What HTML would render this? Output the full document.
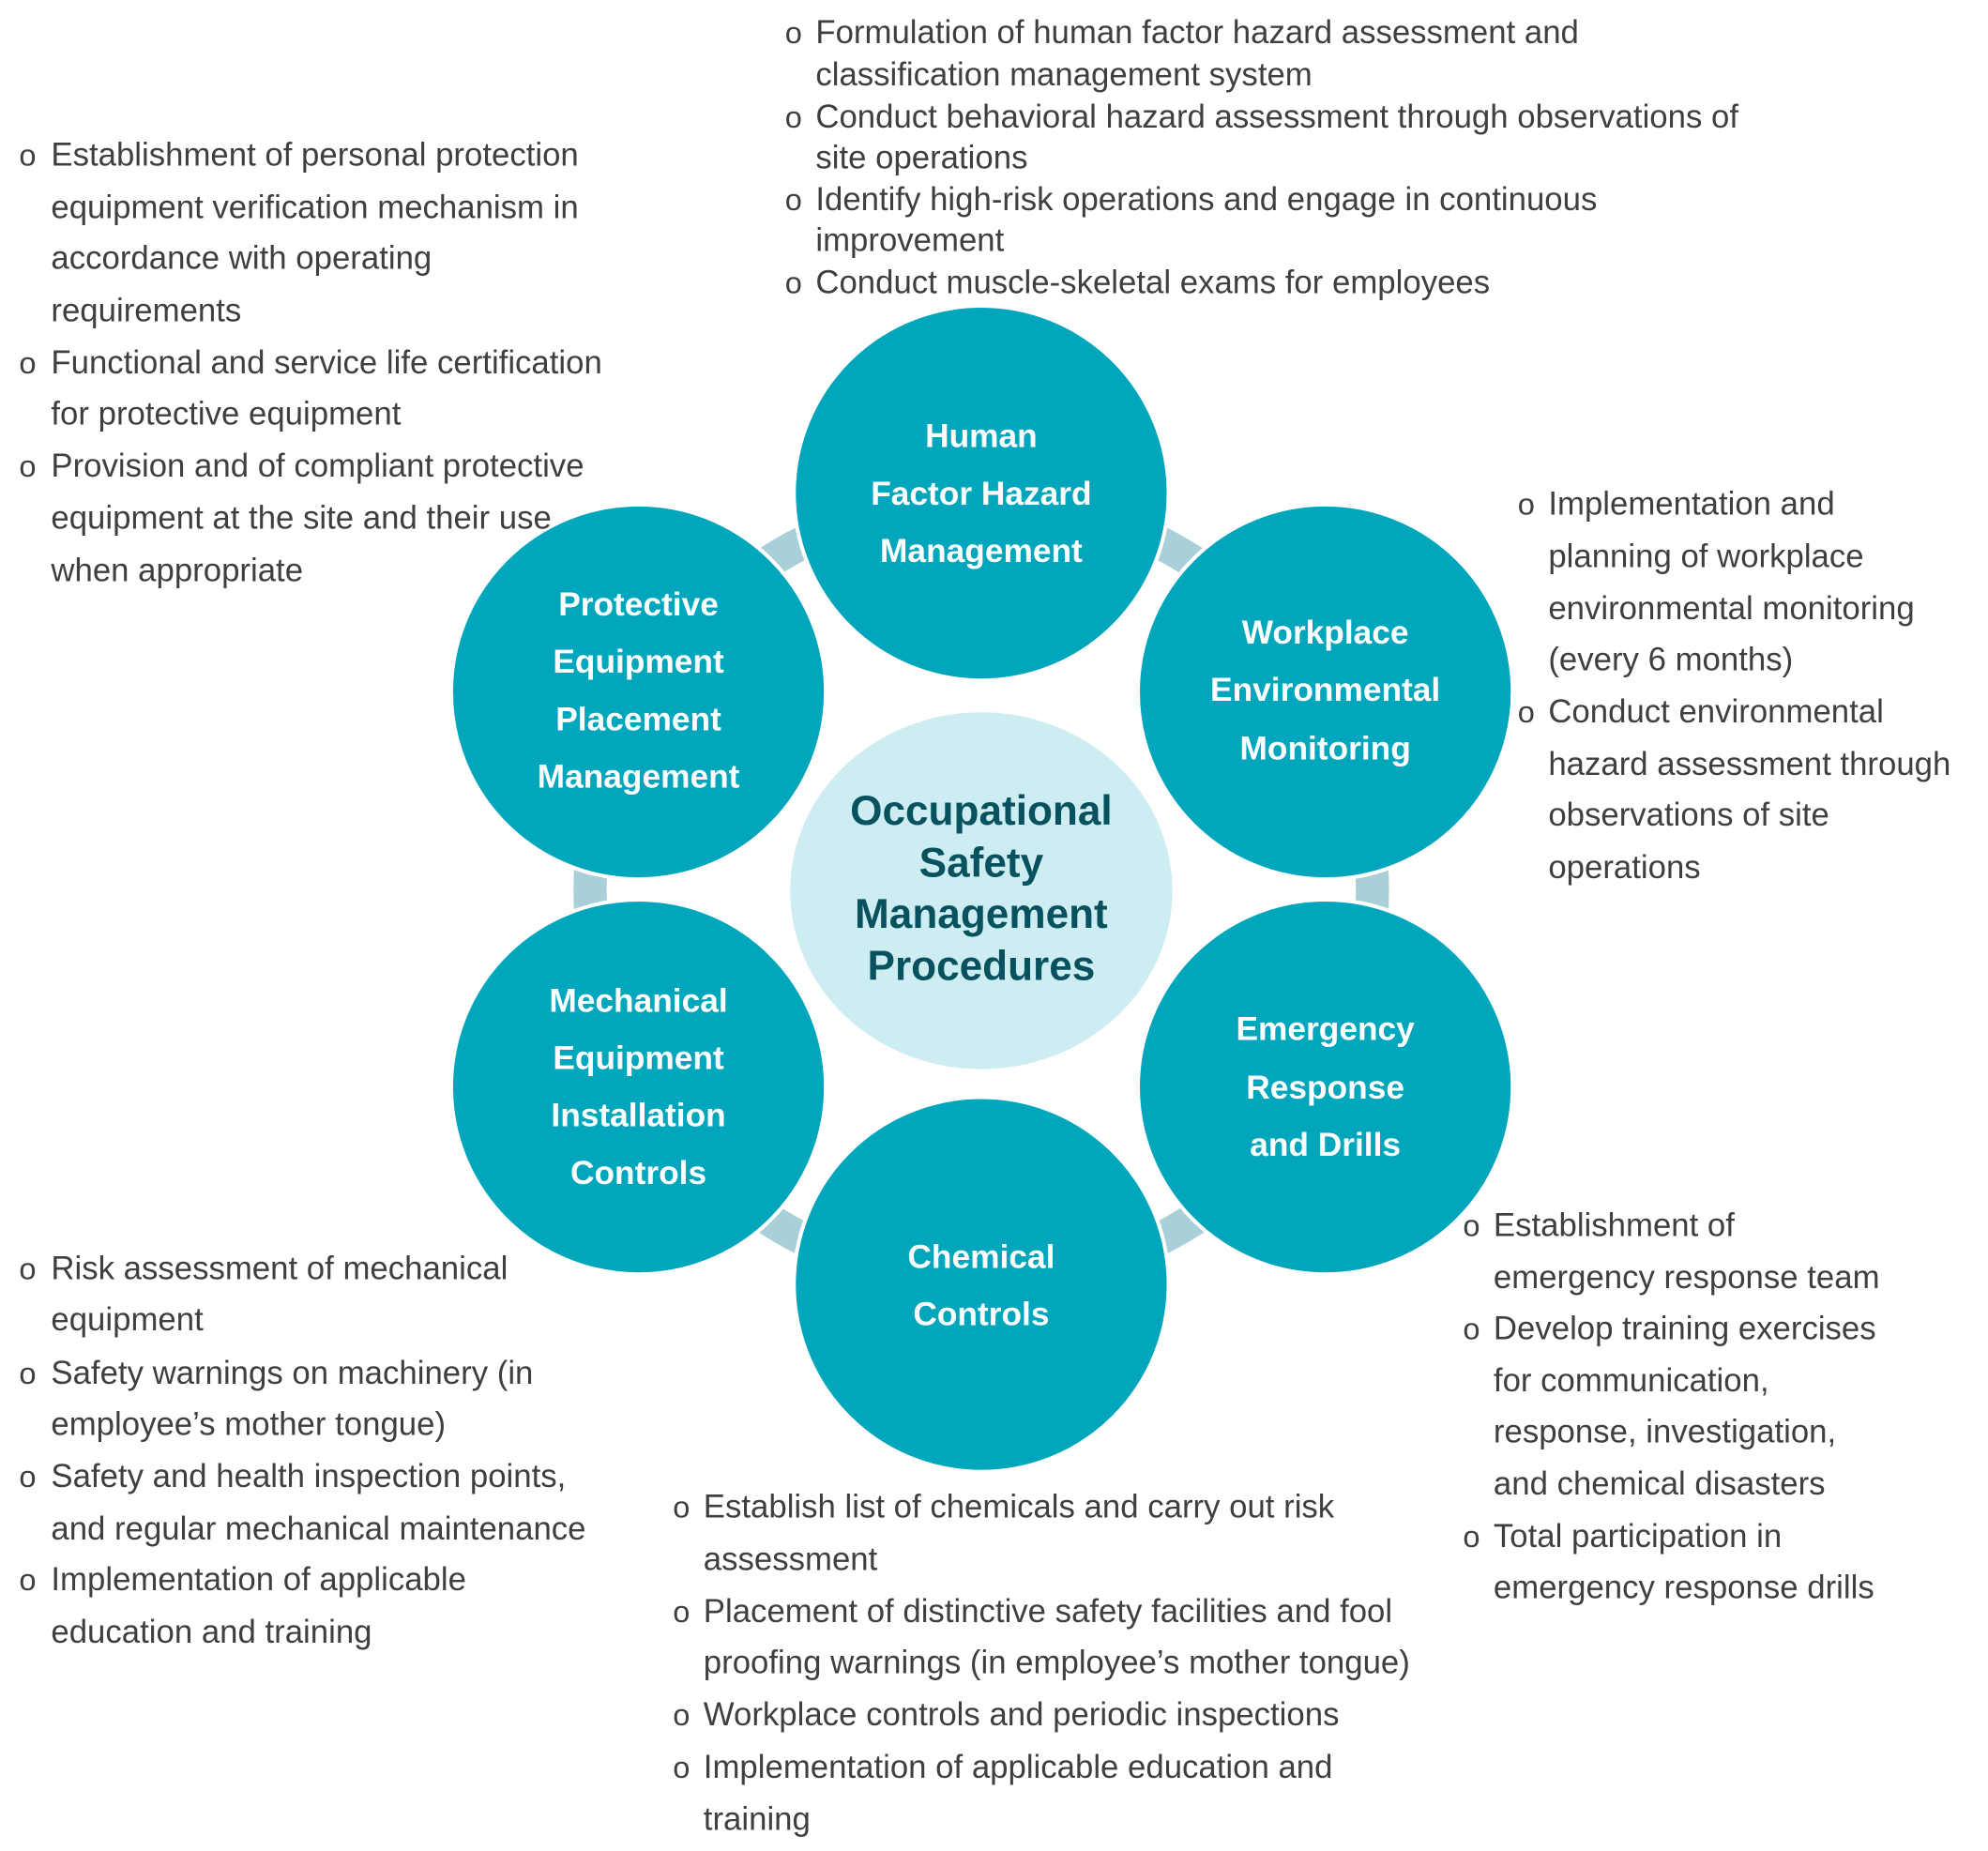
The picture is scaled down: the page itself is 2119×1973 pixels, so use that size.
<!DOCTYPE html>
<html><head><meta charset="utf-8"><style>
html,body{margin:0;padding:0;background:#fff;}
svg{display:block;}
.t{font-family:"Liberation Sans",sans-serif;font-size:25.6px;fill:#3f3f3f;}
.b{font-family:"Liberation Sans",sans-serif;font-size:24px;fill:#3f3f3f;}
.c{font-family:"Liberation Sans",sans-serif;font-size:26px;font-weight:bold;fill:#fff;text-anchor:middle;}
.m{font-family:"Liberation Sans",sans-serif;font-size:32.5px;font-weight:bold;fill:#07525e;text-anchor:middle;}
</style></head><body>
<svg width="2119" height="1973" viewBox="0 0 1560 1452.6" xmlns="http://www.w3.org/2000/svg">
<circle cx="770" cy="699" r="307" fill="none" stroke="#a9cfd8" stroke-width="26"/>
<g fill="#00a6bc" stroke="#fff" stroke-width="3">
<circle cx="770" cy="387" r="147"/>
<circle cx="1040" cy="543" r="147"/>
<circle cx="1040" cy="853" r="147"/>
<circle cx="770" cy="1008" r="147"/>
<circle cx="501" cy="853" r="147"/>
<circle cx="501" cy="543" r="147"/>
</g>
<ellipse cx="770" cy="699" rx="150" ry="140" fill="#cdedf2"/>
<text class="c" x="770" y="351">Human</text>
<text class="c" x="770" y="396">Factor Hazard</text>
<text class="c" x="770" y="441">Management</text>
<text class="c" x="1040" y="505">Workplace</text>
<text class="c" x="1040" y="550">Environmental</text>
<text class="c" x="1040" y="596">Monitoring</text>
<text class="c" x="1040" y="816">Emergency</text>
<text class="c" x="1040" y="862">Response</text>
<text class="c" x="1040" y="907">and Drills</text>
<text class="c" x="770" y="995">Chemical</text>
<text class="c" x="770" y="1040">Controls</text>
<text class="c" x="501" y="794">Mechanical</text>
<text class="c" x="501" y="839">Equipment</text>
<text class="c" x="501" y="884">Installation</text>
<text class="c" x="501" y="929">Controls</text>
<text class="c" x="501" y="483">Protective</text>
<text class="c" x="501" y="528">Equipment</text>
<text class="c" x="501" y="573">Placement</text>
<text class="c" x="501" y="618">Management</text>
<text class="m" x="770" y="647">Occupational</text>
<text class="m" x="770" y="688">Safety</text>
<text class="m" x="770" y="728">Management</text>
<text class="m" x="770" y="769">Procedures</text>

<g>
<text class="b" x="616" y="34">o</text><text class="t" x="640" y="34">Formulation of human factor hazard assessment and</text>
<text class="t" x="640" y="67">classification management system</text>
<text class="b" x="616" y="100">o</text><text class="t" x="640" y="100">Conduct behavioral hazard assessment through observations of</text>
<text class="t" x="640" y="132">site operations</text>
<text class="b" x="616" y="165">o</text><text class="t" x="640" y="165">Identify high-risk operations and engage in continuous</text>
<text class="t" x="640" y="197">improvement</text>
<text class="b" x="616" y="230">o</text><text class="t" x="640" y="230">Conduct muscle-skeletal exams for employees</text>
</g>
<g>
<text class="b" x="15" y="130">o</text><text class="t" x="40" y="130">Establishment of personal protection</text>
<text class="t" x="40" y="171">equipment verification mechanism in</text>
<text class="t" x="40" y="211">accordance with operating</text>
<text class="t" x="40" y="252">requirements</text>
<text class="b" x="15" y="293">o</text><text class="t" x="40" y="293">Functional and service life certification</text>
<text class="t" x="40" y="333">for protective equipment</text>
<text class="b" x="15" y="374">o</text><text class="t" x="40" y="374">Provision and of compliant protective</text>
<text class="t" x="40" y="415">equipment at the site and their use</text>
<text class="t" x="40" y="456">when appropriate</text>
</g>
<g>
<text class="b" x="1191" y="404">o</text><text class="t" x="1215" y="404">Implementation and</text>
<text class="t" x="1215" y="445">planning of workplace</text>
<text class="t" x="1215" y="486">environmental monitoring</text>
<text class="t" x="1215" y="526">(every 6 months)</text>
<text class="b" x="1191" y="567">o</text><text class="t" x="1215" y="567">Conduct environmental</text>
<text class="t" x="1215" y="608">hazard assessment through</text>
<text class="t" x="1215" y="648">observations of site</text>
<text class="t" x="1215" y="689">operations</text>
</g>
<g>
<text class="b" x="1148" y="970">o</text><text class="t" x="1172" y="970">Establishment of</text>
<text class="t" x="1172" y="1011">emergency response team</text>
<text class="b" x="1148" y="1051">o</text><text class="t" x="1172" y="1051">Develop training exercises</text>
<text class="t" x="1172" y="1092">for communication,</text>
<text class="t" x="1172" y="1132">response, investigation,</text>
<text class="t" x="1172" y="1173">and chemical disasters</text>
<text class="b" x="1148" y="1214">o</text><text class="t" x="1172" y="1214">Total participation in</text>
<text class="t" x="1172" y="1254">emergency response drills</text>
</g>
<g>
<text class="b" x="15" y="1004">o</text><text class="t" x="40" y="1004">Risk assessment of mechanical</text>
<text class="t" x="40" y="1044">equipment</text>
<text class="b" x="15" y="1086">o</text><text class="t" x="40" y="1086">Safety warnings on machinery (in</text>
<text class="t" x="40" y="1126">employee’s mother tongue)</text>
<text class="b" x="15" y="1167">o</text><text class="t" x="40" y="1167">Safety and health inspection points,</text>
<text class="t" x="40" y="1208">and regular mechanical maintenance</text>
<text class="b" x="15" y="1248">o</text><text class="t" x="40" y="1248">Implementation of applicable</text>
<text class="t" x="40" y="1289">education and training</text>
</g>
<g>
<text class="b" x="528" y="1191">o</text><text class="t" x="552" y="1191">Establish list of chemicals and carry out risk</text>
<text class="t" x="552" y="1232">assessment</text>
<text class="b" x="528" y="1273">o</text><text class="t" x="552" y="1273">Placement of distinctive safety facilities and fool</text>
<text class="t" x="552" y="1313">proofing warnings (in employee’s mother tongue)</text>
<text class="b" x="528" y="1354">o</text><text class="t" x="552" y="1354">Workplace controls and periodic inspections</text>
<text class="b" x="528" y="1395">o</text><text class="t" x="552" y="1395">Implementation of applicable education and</text>
<text class="t" x="552" y="1436">training</text>
</g>
</svg>
</body></html>
